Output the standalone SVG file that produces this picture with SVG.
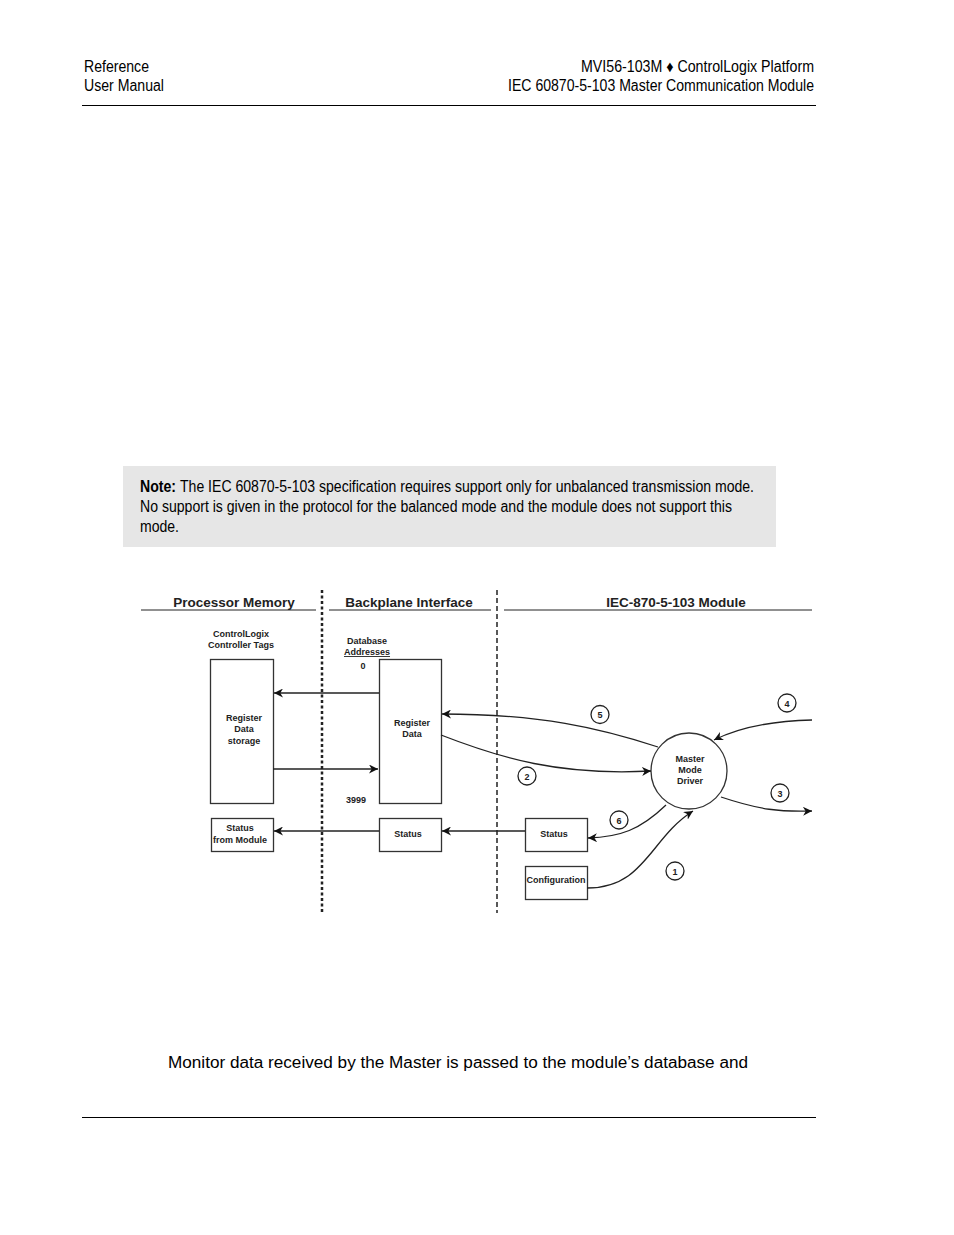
<svg xmlns="http://www.w3.org/2000/svg" width="954" height="1235" viewBox="0 0 954 1235">
<style>
.hdr{font-family:"Liberation Sans",Arial,sans-serif;font-size:16px;fill:#000}
.body{font-family:"Liberation Sans",Arial,sans-serif;font-size:16px;fill:#000}
.h{font-family:"Liberation Sans",Arial,sans-serif;font-size:13.5px;font-weight:bold;fill:#222;text-anchor:middle}
.t{font-family:"Liberation Sans",Arial,sans-serif;font-size:9px;font-weight:bold;fill:#222;text-anchor:middle}
.box{fill:#fff;stroke:#333;stroke-width:1.3}
.ln{fill:none;stroke:#222;stroke-width:1.3}
.num{fill:#fff;stroke:#222;stroke-width:1.3}
</style>
<defs>
<marker id="ah" viewBox="0 0 10 10" refX="10" refY="5" markerWidth="9" markerHeight="9" markerUnits="userSpaceOnUse" orient="auto">
<path d="M0,0 L10,5 L0,10 L3,5 z" fill="#111"/>
</marker>
</defs>
<rect width="954" height="1235" fill="#fff"/>
<g id="header">
<text class="hdr" x="84" y="72" textLength="65" lengthAdjust="spacingAndGlyphs">Reference</text>
<text class="hdr" x="84" y="91" textLength="80" lengthAdjust="spacingAndGlyphs">User Manual</text>
<text class="hdr" x="814" y="72" text-anchor="end" textLength="233" lengthAdjust="spacingAndGlyphs">MVI56-103M ♦ ControlLogix Platform</text>
<text class="hdr" x="814" y="91" text-anchor="end" textLength="306" lengthAdjust="spacingAndGlyphs">IEC 60870-5-103 Master Communication Module</text>
<line x1="82" y1="105.5" x2="816" y2="105.5" stroke="#000" stroke-width="1"/>
</g>
<g id="note">
<rect x="123" y="466" width="653" height="81" fill="#e6e6e6"/>
<text class="body" x="140" y="492" font-weight="bold" textLength="36" lengthAdjust="spacingAndGlyphs">Note:</text>
<text class="body" x="180" y="492" textLength="574" lengthAdjust="spacingAndGlyphs">The IEC 60870-5-103 specification requires support only for unbalanced transmission mode.</text>
<text class="body" x="140" y="512" textLength="592" lengthAdjust="spacingAndGlyphs">No support is given in the protocol for the balanced mode and the module does not support this</text>
<text class="body" x="140" y="532" textLength="39" lengthAdjust="spacingAndGlyphs">mode.</text>
</g>
<g id="sections">
<text class="h" x="234" y="607">Processor Memory</text>
<line x1="141" y1="610" x2="316" y2="610" stroke="#222" stroke-width="1"/>
<text class="h" x="409" y="607">Backplane Interface</text>
<line x1="329" y1="610" x2="491" y2="610" stroke="#222" stroke-width="1"/>
<text class="h" x="676" y="607">IEC-870-5-103 Module</text>
<line x1="504" y1="610" x2="812" y2="610" stroke="#222" stroke-width="1"/>
<line x1="322" y1="590" x2="322" y2="913" stroke="#222" stroke-width="2.5" stroke-dasharray="3,2.5"/>
<line x1="497" y1="590" x2="497" y2="913" stroke="#222" stroke-width="1.5" stroke-dasharray="5,3"/>
</g>
<g id="labels">
<text class="t" x="241" y="637">ControlLogix</text>
<text class="t" x="241" y="648">Controller Tags</text>
<text class="t" x="367" y="644">Database</text>
<text class="t" x="367" y="655" text-decoration="underline">Addresses</text>
<text class="t" x="363" y="669">0</text>
<text class="t" x="356" y="803">3999</text>
</g>
<g id="register-storage">
<rect class="box" x="210.5" y="659.5" width="63" height="144"/>
<text class="t" x="244" y="721">Register</text>
<text class="t" x="244" y="732">Data</text>
<text class="t" x="244" y="744">storage</text>
</g>
<g id="register-data">
<rect class="box" x="379.5" y="659.5" width="62" height="144"/>
<text class="t" x="412" y="726">Register</text>
<text class="t" x="412" y="737">Data</text>
</g>
<g id="status-from-module">
<rect class="box" x="211.5" y="818.5" width="62" height="33"/>
<text class="t" x="240" y="831">Status</text>
<text class="t" x="240" y="843">from Module</text>
</g>
<g id="status-backplane">
<rect class="box" x="379.5" y="818.5" width="62" height="33"/>
<text class="t" x="408" y="837">Status</text>
</g>
<g id="status-module">
<rect class="box" x="525.5" y="818.5" width="62" height="33"/>
<text class="t" x="554" y="837">Status</text>
</g>
<g id="configuration">
<rect class="box" x="525.5" y="866.5" width="62" height="33"/>
<text class="t" x="556" y="883">Configuration</text>
</g>
<g id="master-driver">
<circle class="box" cx="689" cy="771" r="38"/>
<text class="t" x="690" y="762">Master</text>
<text class="t" x="690" y="773">Mode</text>
<text class="t" x="690" y="784">Driver</text>
</g>
<g id="connectors">
<line class="ln" x1="379" y1="693" x2="274" y2="693" marker-end="url(#ah)"/>
<line class="ln" x1="273" y1="769" x2="378" y2="769" marker-end="url(#ah)"/>
<line class="ln" x1="379" y1="831" x2="274" y2="831" marker-end="url(#ah)"/>
<line class="ln" x1="525" y1="831" x2="442" y2="831" marker-end="url(#ah)"/>
<path class="ln" d="M658,747 C600,728 540,714 442,714" marker-end="url(#ah)"/>
<path class="ln" d="M441,735 C500,758 560,776 651,771" marker-end="url(#ah)"/>
<path class="ln" d="M812,720 C770,721 738,728 714,740" marker-end="url(#ah)"/>
<path class="ln" d="M721,797 C760,810 780,812 812,811" marker-end="url(#ah)"/>
<path class="ln" d="M666,805 C640,830 620,837 588,838" marker-end="url(#ah)"/>
<path class="ln" d="M587,888 C645,888 650,838 693,811" marker-end="url(#ah)"/>
</g>
<g id="step-numbers">
<circle class="num" cx="600" cy="714.5" r="9"/><text class="t" x="600" y="718">5</text>
<circle class="num" cx="527" cy="776" r="9"/><text class="t" x="527" y="779.5">2</text>
<circle class="num" cx="787" cy="703" r="9"/><text class="t" x="787" y="706.5">4</text>
<circle class="num" cx="780" cy="793" r="9"/><text class="t" x="780" y="796.5">3</text>
<circle class="num" cx="619" cy="820" r="9"/><text class="t" x="619" y="823.5">6</text>
<circle class="num" cx="675" cy="871" r="9"/><text class="t" x="675" y="874.5">1</text>
</g>
<g id="footer">
<text class="body" x="168" y="1068" font-size="17" textLength="580" lengthAdjust="spacingAndGlyphs">Monitor data received by the Master is passed to the module’s database and</text>
<line x1="82" y1="1117.5" x2="816" y2="1117.5" stroke="#000" stroke-width="1"/>
</g>
</svg>
